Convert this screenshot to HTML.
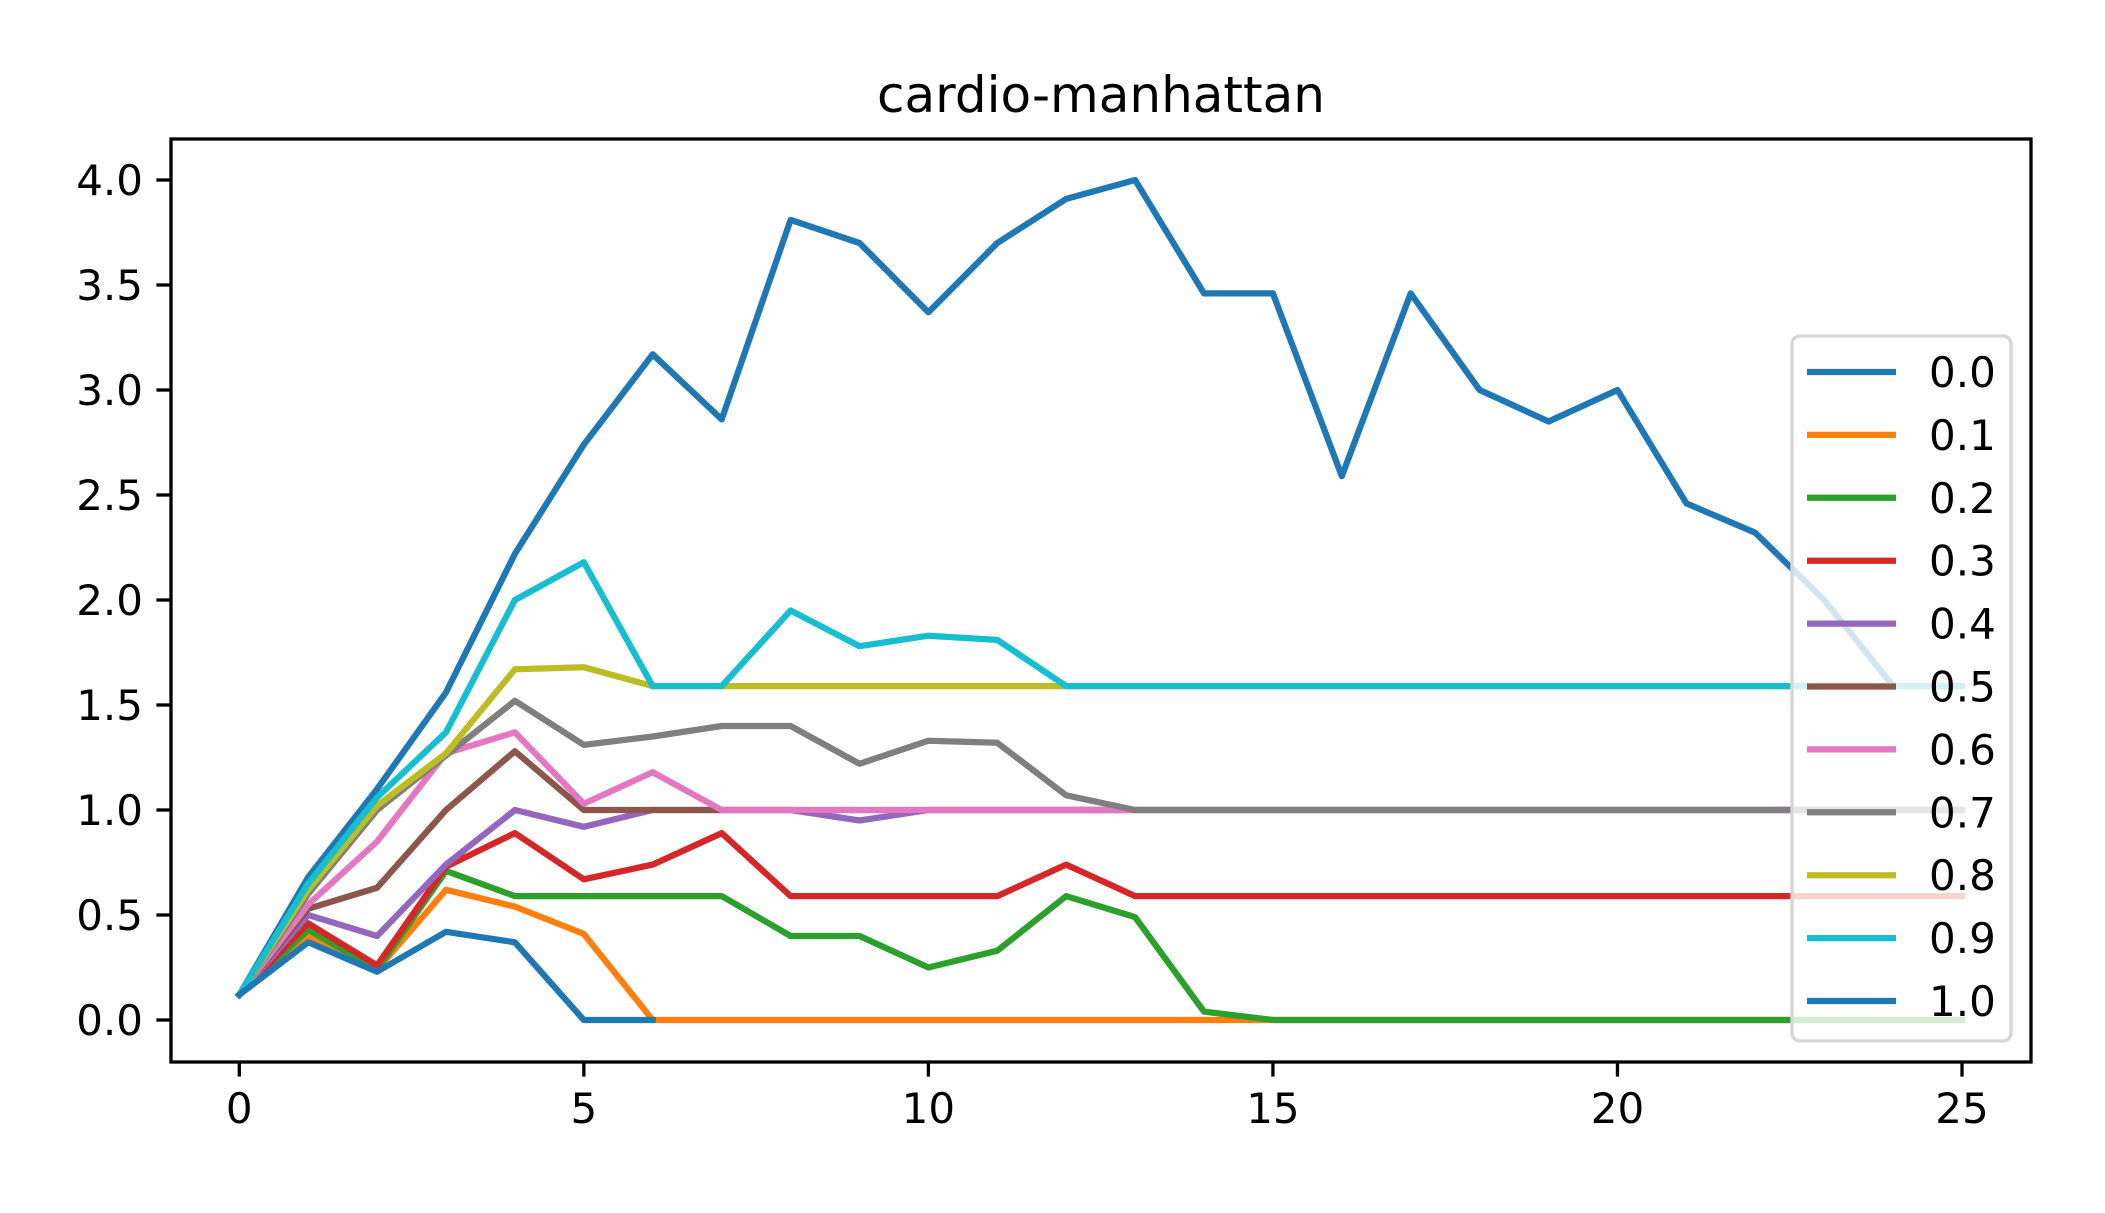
<!DOCTYPE html>
<html><head><meta charset="utf-8"><style>
html,body{margin:0;padding:0;background:#fff;}
svg text{font-family:"DejaVu Sans","Liberation Sans",sans-serif;fill:#000;}
</style></head><body>
<svg id="chart" width="2105" height="1208" viewBox="0 0 2105 1208" xmlns="http://www.w3.org/2000/svg">
<rect width="2105" height="1208" fill="#fff"/>
<text x="1101" y="112" font-size="50" text-anchor="middle">cardio-manhattan</text>
<g id="series"></g>
<g id="axes"></g>
<g id="legend"></g>
</svg>
<script>
const xValues = [0,1,2,3,4,5,6,7,8,9,10,11,12,13,14,15,16,17,18,19,20,21,22,23,24,25];
const seriesLabels = ["0.0","0.1","0.2","0.3","0.4","0.5","0.6","0.7","0.8","0.9","1.0"];
const seriesColors = ["#1f77b4","#ff7f0e","#2ca02c","#d62728","#9467bd","#8c564b","#e377c2","#7f7f7f","#bcbd22","#17becf","#1f77b4"];
const s00 = [0.12,0.68,1.1,1.56,2.22,2.74,3.17,2.86,3.81,3.70,3.37,3.70,3.91,4.0,3.46,3.46,2.59,3.46,3.0,2.85,3.0,2.46,2.32,2.0,1.59,1.59];
const s01 = [0.12,0.40,0.24,0.62,0.54,0.41,0,0,0,0,0,0,0,0,0,0,0,0,0,0,0,0,0,0,0,0];
const s02 = [0.12,0.43,0.24,0.71,0.59,0.59,0.59,0.59,0.40,0.40,0.25,0.33,0.59,0.49,0.04,0,0,0,0,0,0,0,0,0,0,0];
const s03 = [0.12,0.46,0.26,0.73,0.89,0.67,0.74,0.89,0.59,0.59,0.59,0.59,0.74,0.59,0.59,0.59,0.59,0.59,0.59,0.59,0.59,0.59,0.59,0.59,0.59,0.59];
const s04 = [0.12,0.50,0.40,0.74,1.0,0.92,1.0,1.0,1.0,0.95,1.0,1.0,1.0,1.0,1.0,1.0,1.0,1.0,1.0,1.0,1.0,1.0,1.0,1.0,1.0,1.0];
const s05 = [0.12,0.53,0.63,1.0,1.28,1.0,1.0,1.0,1.0,1.0,1.0,1.0,1.0,1.0,1.0,1.0,1.0,1.0,1.0,1.0,1.0,1.0,1.0,1.0,1.0,1.0];
const s06 = [0.12,0.55,0.85,1.27,1.37,1.03,1.18,1.0,1.0,1.0,1.0,1.0,1.0,1.0,1.0,1.0,1.0,1.0,1.0,1.0,1.0,1.0,1.0,1.0,1.0,1.0];
const s07 = [0.12,0.60,1.0,1.26,1.52,1.31,1.35,1.40,1.40,1.22,1.33,1.32,1.07,1.0,1.0,1.0,1.0,1.0,1.0,1.0,1.0,1.0,1.0,1.0,1.0,1.0];
const s08 = [0.12,0.62,1.02,1.27,1.67,1.68,1.59,1.59,1.59,1.59,1.59,1.59,1.59,1.59,1.59,1.59,1.59,1.59,1.59,1.59,1.59,1.59,1.59,1.59,1.59,1.59];
const s09 = [0.12,0.65,1.06,1.37,2.0,2.18,1.59,1.59,1.95,1.78,1.83,1.81,1.59,1.59,1.59,1.59,1.59,1.59,1.59,1.59,1.59,1.59,1.59,1.59,1.59,1.59];
const s10 = [0.12,0.37,0.23,0.42,0.37,0,0];
const xTicks = [0,5,10,15,20,25];
const yTicks = [0.0,0.5,1.0,1.5,2.0,2.5,3.0,3.5,4.0];
const yTickLabels = ["0.0","0.5","1.0","1.5","2.0","2.5","3.0","3.5","4.0"];

const allSeries = [s00,s01,s02,s03,s04,s05,s06,s07,s08,s09,s10];
const L=171, R=2031, T=139, B=1062;
const X = v => 239.3 + v*(1962-239.3)/25;
const Y = v => 1020 - v*210;
const NS="http://www.w3.org/2000/svg";
function mk(tag, attrs, parent){const e=document.createElementNS(NS,tag);for(const k in attrs)e.setAttribute(k,attrs[k]);parent.appendChild(e);return e;}
const gS=document.getElementById('series'), gA=document.getElementById('axes'), gL=document.getElementById('legend');
allSeries.forEach((s,i)=>{
  const p=mk('polyline',{points:s.map((v,j)=>X(xValues[j]).toFixed(1)+','+Y(v).toFixed(1)).join(' '),fill:'none',stroke:seriesColors[i],'stroke-width':6.25,'stroke-linejoin':'round','stroke-linecap':'square'},gS);
  
  
});
const frame=mk('rect',{x:L,y:T,width:R-L,height:B-T,fill:'none',stroke:'#000','stroke-width':3.3},gA);


xTicks.forEach(t=>{
  const tk=mk('line',{x1:X(t),x2:X(t),y1:B,y2:B+14.6,stroke:'#000','stroke-width':3.3},gA);
  
  
  const tx=mk('text',{x:X(t),y:1123,'font-size':42,'text-anchor':'middle'},gA);
  tx.textContent=t;
  
  
});
yTicks.forEach((t,i)=>{
  const tk=mk('line',{x1:L-14.6,x2:L,y1:Y(t),y2:Y(t),stroke:'#000','stroke-width':3.3},gA);
  
  
  const tx=mk('text',{x:L-28,y:Y(t)+15,'font-size':42,'text-anchor':'end'},gA);
  tx.textContent=yTickLabels[i];
  
  
});
const box=mk('rect',{x:1792,y:336,width:219,height:705,rx:8,fill:'#fff','fill-opacity':0.8,stroke:'#d6d6d6','stroke-width':3.3},gL);


seriesLabels.forEach((lab,i)=>{
  const y=372+i*62.9;
  const ln=mk('line',{x1:1807,x2:1896,y1:y,y2:y,stroke:seriesColors[i],'stroke-width':6.25},gL);
  
  
  const tx=mk('text',{x:1929,y:y+15,'font-size':42},gL);
  tx.textContent=lab;
  
  
});
</script>
</body></html>
